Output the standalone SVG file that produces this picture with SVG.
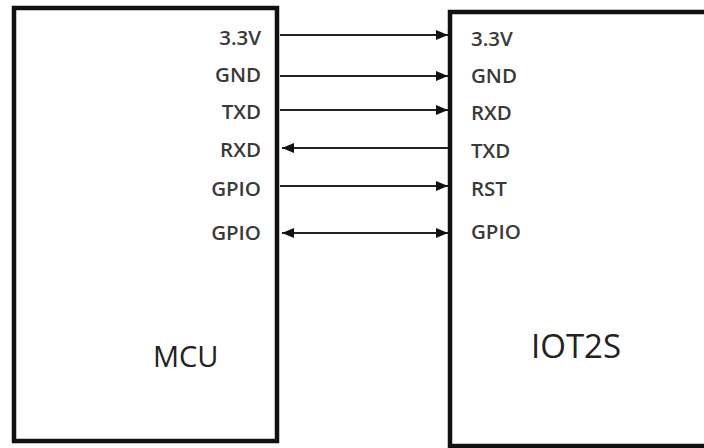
<svg xmlns="http://www.w3.org/2000/svg" width="704" height="448" viewBox="0 0 704 448">
<style>
.box{fill:#fff;stroke:#111;stroke-width:4.5}
.pin{font-family:"Open Sans","DejaVu Sans",sans-serif;font-weight:600;font-size:20.5px;fill:#3a3a3a}
.title{font-family:"Open Sans","DejaVu Sans",sans-serif;font-weight:400;fill:#222}
.wire{stroke:#222;stroke-width:2;fill:none}
</style>
<defs>
<marker id="ah" viewBox="0 0 12 10" refX="12" refY="5" markerWidth="12" markerHeight="10" markerUnits="userSpaceOnUse" orient="auto-start-reverse">
<path d="M0,0 L12,5 L0,10 Z" fill="#111"/>
</marker>
</defs>
<rect width="704" height="448" fill="#fff"/>
<g id="mcu">
<rect class="box" x="14" y="8" width="263" height="433"/>
<text class="pin" x="261" y="45" text-anchor="end">3.3V</text>
<text class="pin" x="261" y="82" text-anchor="end">GND</text>
<text class="pin" x="261" y="119" text-anchor="end">TXD</text>
<text class="pin" x="261" y="157" text-anchor="end">RXD</text>
<text class="pin" x="261" y="196" text-anchor="end">GPIO</text>
<text class="pin" x="261" y="240" text-anchor="end">GPIO</text>
<text class="title" x="153" y="367" font-size="29">MCU</text>
</g>
<g id="iot2s">
<rect class="box" x="450" y="12" width="270" height="434"/>
<text class="pin" x="471" y="46">3.3V</text>
<text class="pin" x="471" y="83">GND</text>
<text class="pin" x="471" y="120">RXD</text>
<text class="pin" x="471" y="158">TXD</text>
<text class="pin" x="471" y="196">RST</text>
<text class="pin" x="471" y="239">GPIO</text>
<text class="title" x="531" y="358" font-size="33">IOT2S</text>
</g>
<g id="connectors">
<line class="wire" x1="280" y1="35" x2="448" y2="35" marker-end="url(#ah)"/>
<line class="wire" x1="280" y1="76" x2="448" y2="76" marker-end="url(#ah)"/>
<line class="wire" x1="280" y1="110" x2="448" y2="110" marker-end="url(#ah)"/>
<line class="wire" x1="448" y1="148" x2="282" y2="148" marker-end="url(#ah)"/>
<line class="wire" x1="280" y1="186" x2="448" y2="186" marker-end="url(#ah)"/>
<line class="wire" x1="282" y1="233" x2="448" y2="233" marker-start="url(#ah)" marker-end="url(#ah)"/>
</g>
</svg>
